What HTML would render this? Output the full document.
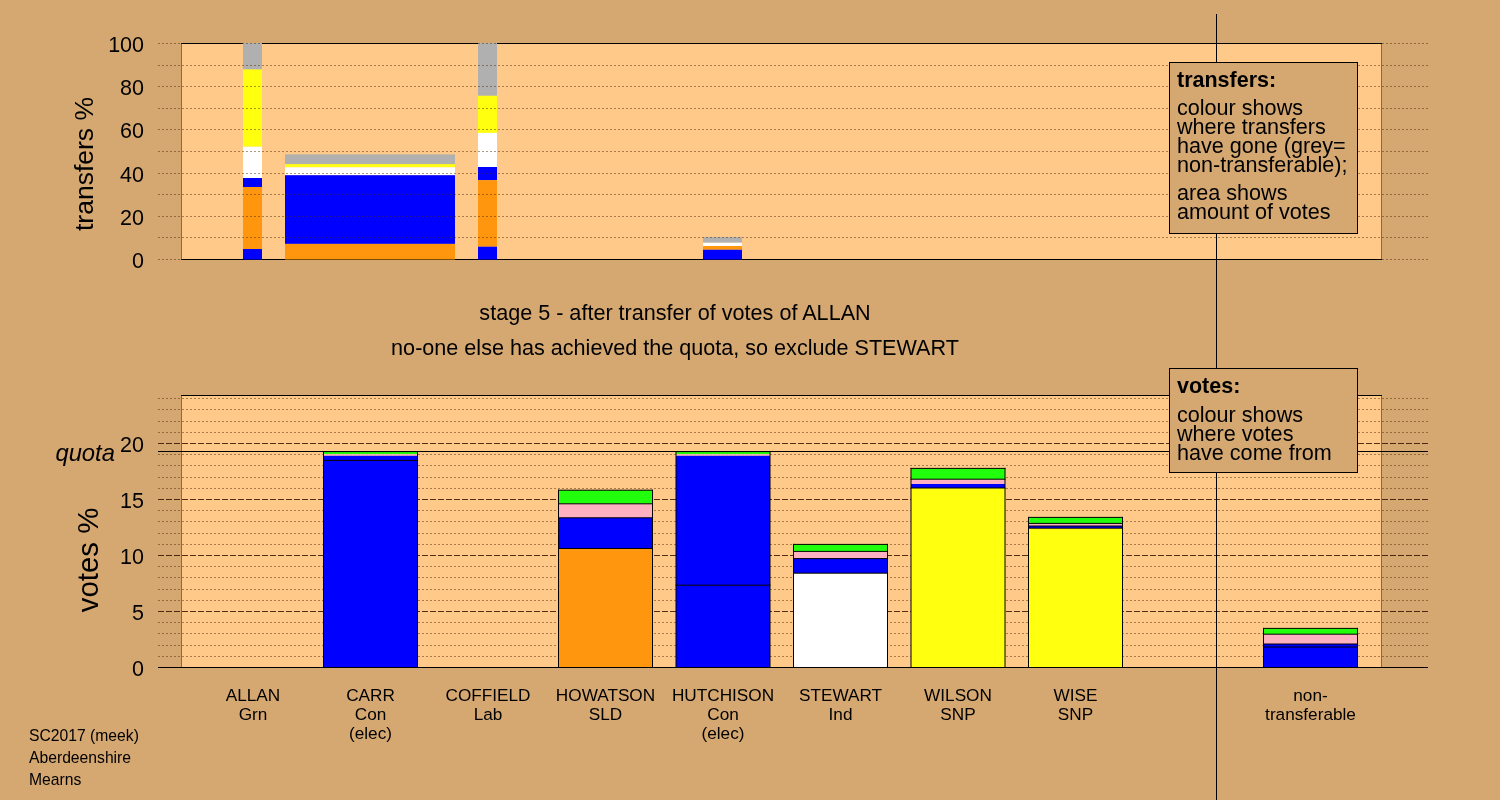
<!DOCTYPE html>
<html><head><meta charset="utf-8"><style>
html,body{margin:0;padding:0;background:#D5A872;}
svg{display:block;will-change:transform;font-family:"Liberation Sans",sans-serif;}
text{fill:#000;}
</style></head><body>
<svg width="1500" height="800" viewBox="0 0 1500 800">
<rect width="1500" height="800" fill="#D5A872"/>
<rect x="181" y="43" width="1201" height="217" fill="#FFC98A"/>
<path d="M181 43.5H1382M181 259.5H1382" stroke="#000" stroke-width="1"/>
<path d="M181.5 43V260M1381.5 43V260" stroke="rgba(50,25,0,0.55)" stroke-width="1"/>
<rect x="243" y="43" width="19" height="26.5" fill="#B0B0B0"/>
<rect x="243" y="69.5" width="19" height="77.2" fill="#FFFF10"/>
<rect x="243" y="146.7" width="19" height="31.3" fill="#FFFFFF"/>
<rect x="243" y="178" width="19" height="9" fill="#0000FF"/>
<rect x="243" y="187" width="19" height="62" fill="#FF960D"/>
<rect x="243" y="249" width="19" height="10.5" fill="#0000FF"/>
<rect x="285" y="154.4" width="170" height="9.8" fill="#B0B0B0"/>
<rect x="285" y="164.2" width="170" height="3.1" fill="#FFFF10"/>
<rect x="285" y="167.3" width="170" height="7.9" fill="#FFFFFF"/>
<rect x="285" y="175.2" width="170" height="68.7" fill="#0000FF"/>
<rect x="285" y="243.9" width="170" height="15.6" fill="#FF960D"/>
<rect x="478" y="43" width="19" height="52.8" fill="#B0B0B0"/>
<rect x="478" y="95.8" width="19" height="37.1" fill="#FFFF10"/>
<rect x="478" y="132.9" width="19" height="34.1" fill="#FFFFFF"/>
<rect x="478" y="167" width="19" height="13.2" fill="#0000FF"/>
<rect x="478" y="180.2" width="19" height="66.5" fill="#FF960D"/>
<rect x="478" y="246.7" width="19" height="12.8" fill="#0000FF"/>
<rect x="703" y="237" width="39" height="5.75" fill="#B0B0B0"/>
<rect x="703" y="242.75" width="39" height="3.25" fill="#FFFFFF"/>
<rect x="703" y="246" width="39" height="3.75" fill="#FF960D"/>
<rect x="703" y="249.75" width="39" height="9.75" fill="#0000FF"/>
<path d="M158 259.5H181" stroke="rgba(80,40,0,0.48)" stroke-width="1" stroke-dasharray="2 2" shape-rendering="crispEdges"/>
<path d="M1382 259.5H1428" stroke="rgba(80,40,0,0.48)" stroke-width="1" stroke-dasharray="2 2" shape-rendering="crispEdges"/>
<path d="M158 237.5H1428" stroke="rgba(80,40,0,0.48)" stroke-width="1" stroke-dasharray="2 2" shape-rendering="crispEdges"/>
<path d="M158 216.5H1428" stroke="rgba(80,40,0,0.48)" stroke-width="1" stroke-dasharray="2 2" shape-rendering="crispEdges"/>
<path d="M158 194.5H1428" stroke="rgba(80,40,0,0.48)" stroke-width="1" stroke-dasharray="2 2" shape-rendering="crispEdges"/>
<path d="M158 173.5H1428" stroke="rgba(80,40,0,0.48)" stroke-width="1" stroke-dasharray="2 2" shape-rendering="crispEdges"/>
<path d="M158 151.5H1428" stroke="rgba(80,40,0,0.48)" stroke-width="1" stroke-dasharray="2 2" shape-rendering="crispEdges"/>
<path d="M158 129.5H1428" stroke="rgba(80,40,0,0.48)" stroke-width="1" stroke-dasharray="2 2" shape-rendering="crispEdges"/>
<path d="M158 108.5H1428" stroke="rgba(80,40,0,0.48)" stroke-width="1" stroke-dasharray="2 2" shape-rendering="crispEdges"/>
<path d="M158 86.5H1428" stroke="rgba(80,40,0,0.48)" stroke-width="1" stroke-dasharray="2 2" shape-rendering="crispEdges"/>
<path d="M158 65.5H1428" stroke="rgba(80,40,0,0.48)" stroke-width="1" stroke-dasharray="2 2" shape-rendering="crispEdges"/>
<path d="M158 43.5H181" stroke="rgba(80,40,0,0.48)" stroke-width="1" stroke-dasharray="2 2" shape-rendering="crispEdges"/>
<path d="M1382 43.5H1428" stroke="rgba(80,40,0,0.48)" stroke-width="1" stroke-dasharray="2 2" shape-rendering="crispEdges"/>
<path d="M242 43.5H262" stroke="rgba(80,40,0,0.48)" stroke-width="1" stroke-dasharray="2 2" shape-rendering="crispEdges"/>
<path d="M478 43.5H497" stroke="rgba(80,40,0,0.48)" stroke-width="1" stroke-dasharray="2 2" shape-rendering="crispEdges"/>
<text x="144" y="267.9" font-size="21.5" text-anchor="end" font-weight="normal" font-style="normal" >0</text>
<text x="144" y="224.7" font-size="21.5" text-anchor="end" font-weight="normal" font-style="normal" >20</text>
<text x="144" y="181.5" font-size="21.5" text-anchor="end" font-weight="normal" font-style="normal" >40</text>
<text x="144" y="138.3" font-size="21.5" text-anchor="end" font-weight="normal" font-style="normal" >60</text>
<text x="144" y="95.1" font-size="21.5" text-anchor="end" font-weight="normal" font-style="normal" >80</text>
<text x="144" y="51.9" font-size="21.5" text-anchor="end" font-weight="normal" font-style="normal" >100</text>
<text transform="translate(93,164) rotate(-90)" font-size="26.5" text-anchor="middle">transfers %</text>
<text x="675" y="320" font-size="21.6" text-anchor="middle" font-weight="normal" font-style="normal" >stage 5 - after transfer of votes of ALLAN</text>
<text x="675" y="354.5" font-size="21.6" text-anchor="middle" font-weight="normal" font-style="normal" >no-one else has achieved the quota, so exclude STEWART</text>
<rect x="181" y="395" width="1201" height="273" fill="#FFC98A"/>
<path d="M181 395.5H1382" stroke="#000" stroke-width="1"/>
<path d="M181.5 395V668M1381.5 395V668" stroke="rgba(50,25,0,0.55)" stroke-width="1"/>
<path d="M158 656.5H1428" stroke="rgba(80,40,0,0.48)" stroke-width="1" stroke-dasharray="2 2" shape-rendering="crispEdges"/>
<path d="M158 645.5H1428" stroke="rgba(80,40,0,0.48)" stroke-width="1" stroke-dasharray="2 2" shape-rendering="crispEdges"/>
<path d="M158 633.5H1428" stroke="rgba(80,40,0,0.48)" stroke-width="1" stroke-dasharray="2 2" shape-rendering="crispEdges"/>
<path d="M158 622.5H1428" stroke="rgba(80,40,0,0.48)" stroke-width="1" stroke-dasharray="2 2" shape-rendering="crispEdges"/>
<path d="M158 611.5H1428" stroke="rgba(50,20,0,0.85)" stroke-width="1" stroke-dasharray="6 2" shape-rendering="crispEdges"/>
<path d="M158 600.5H1428" stroke="rgba(80,40,0,0.48)" stroke-width="1" stroke-dasharray="2 2" shape-rendering="crispEdges"/>
<path d="M158 589.5H1428" stroke="rgba(80,40,0,0.48)" stroke-width="1" stroke-dasharray="2 2" shape-rendering="crispEdges"/>
<path d="M158 577.5H1428" stroke="rgba(80,40,0,0.48)" stroke-width="1" stroke-dasharray="2 2" shape-rendering="crispEdges"/>
<path d="M158 566.5H1428" stroke="rgba(80,40,0,0.48)" stroke-width="1" stroke-dasharray="2 2" shape-rendering="crispEdges"/>
<path d="M158 555.5H1428" stroke="rgba(50,20,0,0.85)" stroke-width="1" stroke-dasharray="6 2" shape-rendering="crispEdges"/>
<path d="M158 544.5H1428" stroke="rgba(80,40,0,0.48)" stroke-width="1" stroke-dasharray="2 2" shape-rendering="crispEdges"/>
<path d="M158 533.5H1428" stroke="rgba(80,40,0,0.48)" stroke-width="1" stroke-dasharray="2 2" shape-rendering="crispEdges"/>
<path d="M158 521.5H1428" stroke="rgba(80,40,0,0.48)" stroke-width="1" stroke-dasharray="2 2" shape-rendering="crispEdges"/>
<path d="M158 510.5H1428" stroke="rgba(80,40,0,0.48)" stroke-width="1" stroke-dasharray="2 2" shape-rendering="crispEdges"/>
<path d="M158 499.5H1428" stroke="rgba(50,20,0,0.85)" stroke-width="1" stroke-dasharray="6 2" shape-rendering="crispEdges"/>
<path d="M158 488.5H1428" stroke="rgba(80,40,0,0.48)" stroke-width="1" stroke-dasharray="2 2" shape-rendering="crispEdges"/>
<path d="M158 477.5H1428" stroke="rgba(80,40,0,0.48)" stroke-width="1" stroke-dasharray="2 2" shape-rendering="crispEdges"/>
<path d="M158 465.5H1428" stroke="rgba(80,40,0,0.48)" stroke-width="1" stroke-dasharray="2 2" shape-rendering="crispEdges"/>
<path d="M158 454.5H1428" stroke="rgba(80,40,0,0.48)" stroke-width="1" stroke-dasharray="2 2" shape-rendering="crispEdges"/>
<path d="M158 443.5H1428" stroke="rgba(50,20,0,0.85)" stroke-width="1" stroke-dasharray="6 2" shape-rendering="crispEdges"/>
<path d="M158 432.5H1428" stroke="rgba(80,40,0,0.48)" stroke-width="1" stroke-dasharray="2 2" shape-rendering="crispEdges"/>
<path d="M158 421.5H1428" stroke="rgba(80,40,0,0.48)" stroke-width="1" stroke-dasharray="2 2" shape-rendering="crispEdges"/>
<path d="M158 409.5H1428" stroke="rgba(80,40,0,0.48)" stroke-width="1" stroke-dasharray="2 2" shape-rendering="crispEdges"/>
<path d="M158 398.5H1428" stroke="rgba(80,40,0,0.48)" stroke-width="1" stroke-dasharray="2 2" shape-rendering="crispEdges"/>
<rect x="323.5" y="451.6" width="94" height="2.6" fill="#22FF0C"/>
<rect x="323.5" y="454.2" width="94" height="1.6" fill="#FFB1C1"/>
<rect x="323.5" y="455.8" width="94" height="4.6" fill="#0000FF"/>
<rect x="323.5" y="460.4" width="94" height="207.1" fill="#0000FF"/>
<path d="M323.0 451.6H418.0M323.0 460.4H418.0M323.0 667.5H418.0" stroke="#000" stroke-width="1"/>
<path d="M323.5 451.1V667.5M417.5 451.1V667.5" stroke="#000" stroke-width="1"/>
<rect x="558.5" y="490.2" width="94" height="13.6" fill="#22FF0C"/>
<rect x="558.5" y="503.8" width="94" height="14.0" fill="#FFB1C1"/>
<rect x="558.5" y="517.8" width="94" height="30.7" fill="#0000FF"/>
<rect x="558.5" y="548.5" width="94" height="119.0" fill="#FF960D"/>
<path d="M558.0 490.2H653.0M558.0 503.8H653.0M558.0 517.8H653.0M558.0 548.5H653.0M558.0 667.5H653.0" stroke="#000" stroke-width="1"/>
<path d="M558.5 489.7V667.5M652.5 489.7V667.5" stroke="#000" stroke-width="1"/>
<rect x="676.0" y="451.6" width="94" height="2.6" fill="#22FF0C"/>
<rect x="676.0" y="454.2" width="94" height="1.6" fill="#FFB1C1"/>
<rect x="676.0" y="455.8" width="94" height="129.4" fill="#0000FF"/>
<rect x="676.0" y="585.2" width="94" height="82.3" fill="#0000FF"/>
<path d="M675.5 451.6H770.5M675.5 585.2H770.5M675.5 667.5H770.5" stroke="#000" stroke-width="1"/>
<path d="M676.0 451.1V667.5M770.0 451.1V667.5" stroke="#000" stroke-width="1"/>
<rect x="793.5" y="544.4" width="94" height="7.0" fill="#22FF0C"/>
<rect x="793.5" y="551.4" width="94" height="7.2" fill="#FFB1C1"/>
<rect x="793.5" y="558.6" width="94" height="14.6" fill="#0000FF"/>
<rect x="793.5" y="573.2" width="94" height="94.3" fill="#FFFFFF"/>
<path d="M793.0 544.4H888.0M793.0 551.4H888.0M793.0 558.6H888.0M793.0 573.2H888.0M793.0 667.5H888.0" stroke="#000" stroke-width="1"/>
<path d="M793.5 543.9V667.5M887.5 543.9V667.5" stroke="#000" stroke-width="1"/>
<rect x="911.0" y="468.4" width="94" height="10.8" fill="#22FF0C"/>
<rect x="911.0" y="479.2" width="94" height="4.8" fill="#FFB1C1"/>
<rect x="911.0" y="484" width="94" height="4" fill="#0000FF"/>
<rect x="911.0" y="488" width="94" height="179.5" fill="#FFFF10"/>
<path d="M910.5 468.4H1005.5M910.5 479.2H1005.5M910.5 488H1005.5M910.5 667.5H1005.5" stroke="#000" stroke-width="1"/>
<path d="M911.0 467.9V667.5M1005.0 467.9V667.5" stroke="#000" stroke-width="1"/>
<rect x="1028.5" y="517.4" width="94" height="6.0" fill="#22FF0C"/>
<rect x="1028.5" y="523.4" width="94" height="2.6" fill="#FFB1C1"/>
<rect x="1028.5" y="526" width="94" height="2.2" fill="#0000FF"/>
<rect x="1028.5" y="528.2" width="94" height="139.3" fill="#FFFF10"/>
<path d="M1028.0 517.4H1123.0M1028.0 523.4H1123.0M1028.0 526H1123.0M1028.0 528.2H1123.0M1028.0 667.5H1123.0" stroke="#000" stroke-width="1"/>
<path d="M1028.5 516.9V667.5M1122.5 516.9V667.5" stroke="#000" stroke-width="1"/>
<rect x="1263.5" y="628.4" width="94" height="5.8" fill="#22FF0C"/>
<rect x="1263.5" y="634.2" width="94" height="9.8" fill="#FFB1C1"/>
<rect x="1263.5" y="644" width="94" height="3" fill="#0000FF"/>
<rect x="1263.5" y="647" width="94" height="20.5" fill="#0000FF"/>
<path d="M1263.0 628.4H1358.0M1263.0 634.2H1358.0M1263.0 644H1358.0M1263.0 647H1358.0M1263.0 667.5H1358.0" stroke="#000" stroke-width="1"/>
<path d="M1263.5 627.9V667.5M1357.5 627.9V667.5" stroke="#000" stroke-width="1"/>
<path d="M158 451.5H1428M158 667.5H1428" stroke="#000" stroke-width="1" shape-rendering="crispEdges"/>
<text x="144" y="675.7" font-size="21.5" text-anchor="end" font-weight="normal" font-style="normal" >0</text>
<text x="144" y="619.7" font-size="21.5" text-anchor="end" font-weight="normal" font-style="normal" >5</text>
<text x="144" y="563.7" font-size="21.5" text-anchor="end" font-weight="normal" font-style="normal" >10</text>
<text x="144" y="507.7" font-size="21.5" text-anchor="end" font-weight="normal" font-style="normal" >15</text>
<text x="144" y="451.7" font-size="21.5" text-anchor="end" font-weight="normal" font-style="normal" >20</text>
<text x="55.4" y="461" font-size="23.8" text-anchor="start" font-weight="normal" font-style="italic" >quota</text>
<text transform="translate(97.5,560) rotate(-90)" font-size="29.4" text-anchor="middle">votes %</text>
<path d="M1216.5 14V800" stroke="#000" stroke-width="1" shape-rendering="crispEdges"/>
<rect x="1169.5" y="62.5" width="188" height="171" fill="#D5A872" stroke="#000" stroke-width="1" shape-rendering="crispEdges"/>
<text x="1177" y="86.9" font-size="21.5" text-anchor="start" font-weight="bold" font-style="normal" >transfers:</text>
<text x="1177" y="115.25" font-size="21.6" text-anchor="start" font-weight="normal" font-style="normal" >colour shows</text>
<text x="1177" y="134.25" font-size="21.6" text-anchor="start" font-weight="normal" font-style="normal" >where transfers</text>
<text x="1177" y="153.25" font-size="21.6" text-anchor="start" font-weight="normal" font-style="normal" >have gone (grey=</text>
<text x="1177" y="172.25" font-size="21.6" text-anchor="start" font-weight="normal" font-style="normal" >non-transferable);</text>
<text x="1177" y="199.6" font-size="21.6" text-anchor="start" font-weight="normal" font-style="normal" >area shows</text>
<text x="1177" y="219.1" font-size="21.6" text-anchor="start" font-weight="normal" font-style="normal" >amount of votes</text>
<rect x="1169.5" y="368.5" width="188" height="104" fill="#D5A872" stroke="#000" stroke-width="1" shape-rendering="crispEdges"/>
<text x="1177" y="393" font-size="21.5" text-anchor="start" font-weight="bold" font-style="normal" >votes:</text>
<text x="1177" y="422.0" font-size="21.6" text-anchor="start" font-weight="normal" font-style="normal" >colour shows</text>
<text x="1177" y="441.1" font-size="21.6" text-anchor="start" font-weight="normal" font-style="normal" >where votes</text>
<text x="1177" y="460.2" font-size="21.6" text-anchor="start" font-weight="normal" font-style="normal" >have come from</text>
<text x="253.0" y="700.5" font-size="17.2" text-anchor="middle" font-weight="normal" font-style="normal" >ALLAN</text>
<text x="253.0" y="719.6" font-size="17.2" text-anchor="middle" font-weight="normal" font-style="normal" >Grn</text>
<text x="370.5" y="700.5" font-size="17.2" text-anchor="middle" font-weight="normal" font-style="normal" >CARR</text>
<text x="370.5" y="719.6" font-size="17.2" text-anchor="middle" font-weight="normal" font-style="normal" >Con</text>
<text x="370.5" y="738.7" font-size="17.2" text-anchor="middle" font-weight="normal" font-style="normal" >(elec)</text>
<text x="488.0" y="700.5" font-size="17.2" text-anchor="middle" font-weight="normal" font-style="normal" >COFFIELD</text>
<text x="488.0" y="719.6" font-size="17.2" text-anchor="middle" font-weight="normal" font-style="normal" >Lab</text>
<text x="605.5" y="700.5" font-size="17.2" text-anchor="middle" font-weight="normal" font-style="normal" >HOWATSON</text>
<text x="605.5" y="719.6" font-size="17.2" text-anchor="middle" font-weight="normal" font-style="normal" >SLD</text>
<text x="723.0" y="700.5" font-size="17.2" text-anchor="middle" font-weight="normal" font-style="normal" >HUTCHISON</text>
<text x="723.0" y="719.6" font-size="17.2" text-anchor="middle" font-weight="normal" font-style="normal" >Con</text>
<text x="723.0" y="738.7" font-size="17.2" text-anchor="middle" font-weight="normal" font-style="normal" >(elec)</text>
<text x="840.5" y="700.5" font-size="17.2" text-anchor="middle" font-weight="normal" font-style="normal" >STEWART</text>
<text x="840.5" y="719.6" font-size="17.2" text-anchor="middle" font-weight="normal" font-style="normal" >Ind</text>
<text x="958.0" y="700.5" font-size="17.2" text-anchor="middle" font-weight="normal" font-style="normal" >WILSON</text>
<text x="958.0" y="719.6" font-size="17.2" text-anchor="middle" font-weight="normal" font-style="normal" >SNP</text>
<text x="1075.5" y="700.5" font-size="17.2" text-anchor="middle" font-weight="normal" font-style="normal" >WISE</text>
<text x="1075.5" y="719.6" font-size="17.2" text-anchor="middle" font-weight="normal" font-style="normal" >SNP</text>
<text x="1310.5" y="700.5" font-size="17.2" text-anchor="middle" font-weight="normal" font-style="normal" >non-</text>
<text x="1310.5" y="719.6" font-size="17.2" text-anchor="middle" font-weight="normal" font-style="normal" >transferable</text>
<text x="29" y="741.0" font-size="15.7" text-anchor="start" font-weight="normal" font-style="normal" >SC2017 (meek)</text>
<text x="29" y="762.8" font-size="15.7" text-anchor="start" font-weight="normal" font-style="normal" >Aberdeenshire</text>
<text x="29" y="784.6" font-size="15.7" text-anchor="start" font-weight="normal" font-style="normal" >Mearns</text>
</svg>
</body></html>
